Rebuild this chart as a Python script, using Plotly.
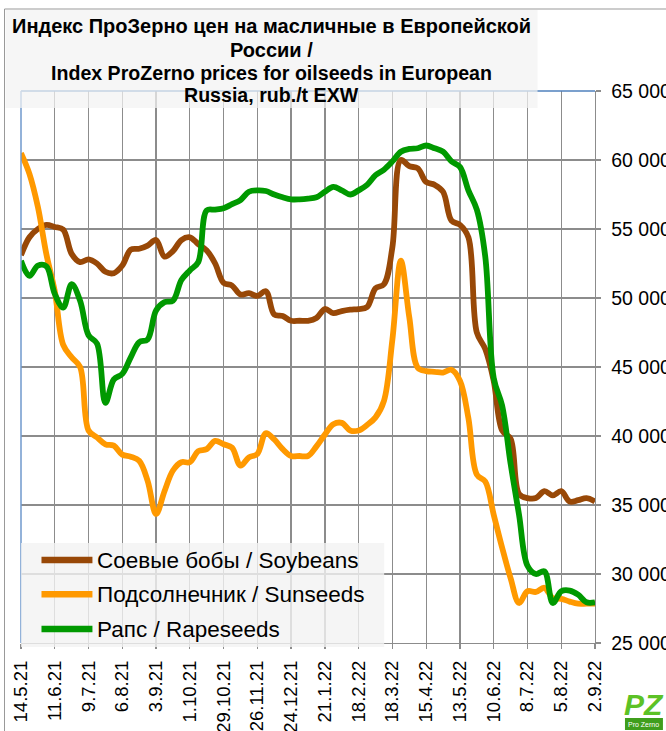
import plotly.graph_objects as go
import pandas as pd

# ---- data ----
weeks = pd.date_range("2021-05-14", "2022-09-02", freq="7D")

tick_labels = ["14.5.21", "11.6.21", "9.7.21", "6.8.21", "3.9.21", "1.10.21",
               "29.10.21", "26.11.21", "24.12.21", "21.1.22", "18.2.22", "18.3.22",
               "15.4.22", "13.5.22", "10.6.22", "8.7.22", "5.8.22", "2.9.22"]

soybeans = [53100, 54400, 55000, 55300, 55150, 54950, 53200, 52600, 52800, 52500,
            51900, 51800, 52350, 53500, 53570, 53800, 54200, 53000, 53400, 54200,
            54400, 53900, 53450, 52500, 51100, 50900, 50250, 50350, 50150, 50500,
            48800, 48700, 48350, 48350, 48350, 48550, 49200, 48900, 49050, 49150,
            49200, 49350, 50700, 51000, 53700, 60000, 59550, 59400, 58400, 58200,
            57700, 55600, 55300, 54400, 47500, 46300, 44000, 40400, 39800, 35800,
            35500, 35500, 36000, 35700, 36000, 35250, 35350, 35500, 35250]

sunseeds = [60500, 59000, 56600, 53200, 50500, 46600, 45700, 45000, 40400, 39900,
            39400, 39300, 38650, 38500, 38200, 36750, 34350, 36000, 37500, 38100,
            38100, 38900, 39050, 39650, 39400, 39150, 37850, 38450, 38700, 40200,
            39750, 39050, 38550, 38550, 38550, 39250, 40100, 40850, 40950, 40400,
            40400, 40800, 41350, 42550, 47000, 52700, 48600, 44950, 44700, 44650,
            44600, 44800, 44000, 41300, 37200, 36700, 34300, 31900, 29700, 27900,
            28750, 28700, 29000, 28250, 28200, 28000, 27850, 27850, 27850]

rapeseeds = [52700, 51600, 52350, 52300, 50300, 49300, 51000, 49800, 47300, 46700,
             42400, 44100, 44500, 45700, 46800, 47000, 49100, 49700, 49800, 51300,
             52000, 52600, 56350, 56400, 56500, 56800, 57100, 57700, 57800, 57750,
             57500, 57300, 57150, 57150, 57200, 57300, 57700, 58050, 57800, 57500,
             57800, 58200, 58900, 59300, 59900, 60600, 60800, 60850, 61050, 60850,
             60600, 59900, 59500, 57800, 56400, 53000, 44200, 42200, 38000, 34300,
             30600, 30000, 30200, 27900, 28750, 28800, 28500, 27950, 27950]

series_names = ["Соевые бобы / Soybeans", "Подсолнечник / Sunseeds", "Рапс / Rapeseeds"]
series_colors = ["#984807", "#FF9900", "#009900"]

title_lines = ["Индекс ПроЗерно цен на масличные в Европейской",
               "России /",
               "Index ProZerno prices for oilseeds in European",
               "Russia, rub./t EXW"]

# ---- layout geometry (pixels) ----
FW, FH = 666, 731
L, R, T, B = 20.5, 595, 91, 643
W, H = R - L, B - T

def px(x):
    return (x - L) / W

def py(y):
    return (B - y) / H

FONT = "Liberation Sans, Arial, sans-serif"

fig = go.Figure()
for vals, name, col in zip([soybeans, sunseeds, rapeseeds], series_names, series_colors):
    fig.add_trace(go.Scatter(x=weeks, y=vals, mode="lines", name=name,
                             line=dict(color=col, width=5.8, shape="spline", smoothing=1.0),
                             showlegend=False, hoverinfo="skip"))

shapes = []
annotations = []

# outer frame
shapes.append(dict(type="rect", xref="paper", yref="paper",
                   x0=px(4), x1=px(700), y0=py(9), y1=py(760),
                   line=dict(color="#999999", width=1), fillcolor="rgba(0,0,0,0)", layer="below"))
# plot area blue top/left border
shapes.append(dict(type="line", xref="paper", yref="paper", x0=0, x1=1, y0=1, y1=1,
                   line=dict(color="#4f81bd", width=1.5), layer="above"))
shapes.append(dict(type="line", xref="paper", yref="paper", x0=0, x1=0, y0=0, y1=1,
                   line=dict(color="#6f98cc", width=1.5), layer="above"))

# title box
shapes.append(dict(type="rect", xref="paper", yref="paper",
                   x0=px(5), x1=px(537.5), y0=py(108), y1=py(10),
                   line=dict(width=0), fillcolor="rgba(242,242,242,0.72)", layer="above"))
for txt, yc, fs in zip(title_lines, [26.5, 49.5, 72.7, 95.5], [20, 20, 19.6, 19.6]):
    annotations.append(dict(text="<b>" + txt + "</b>", xref="paper", yref="paper",
                            x=px(271.5), y=py(yc), xanchor="center", yanchor="middle",
                            showarrow=False, font=dict(family=FONT, size=fs, color="#000000")))

# legend box
shapes.append(dict(type="rect", xref="paper", yref="paper",
                   x0=px(20.5), x1=px(384), y0=py(647), y1=py(543),
                   line=dict(width=0), fillcolor="rgba(242,242,242,0.8)", layer="above"))
for name, col, yc in zip(series_names, series_colors, [560, 594.3, 629]):
    shapes.append(dict(type="line", xref="paper", yref="paper",
                       x0=px(41), x1=px(92), y0=py(yc), y1=py(yc),
                       line=dict(color=col, width=6.5), layer="above"))
    annotations.append(dict(text=name, xref="paper", yref="paper",
                            x=px(95), y=py(yc), xanchor="left", yanchor="middle",
                            showarrow=False, font=dict(family=FONT, size=22.5, color="#000000")))

# logo
shapes.append(dict(type="rect", xref="paper", yref="paper",
                   x0=px(625), x1=px(663), y0=py(730), y1=py(718),
                   line=dict(width=0), fillcolor="#3f9e1c", layer="above"))
annotations.append(dict(text="<b><i>PZ</i></b>", xref="paper", yref="paper",
                        x=px(644), y=py(704), xanchor="center", yanchor="middle",
                        showarrow=False, font=dict(family=FONT, size=30, color="#5cc226")))
annotations.append(dict(text="Pro Zerno", xref="paper", yref="paper",
                        x=px(644), y=py(724.5), xanchor="center", yanchor="middle",
                        showarrow=False, font=dict(family=FONT, size=7, color="#ffffff")))

fig.update_layout(
    width=FW, height=FH,
    margin=dict(l=L, r=FW - R, t=T, b=FH - B, autoexpand=False),
    paper_bgcolor="white", plot_bgcolor="white",
    separators=". ",
    showlegend=False,
    font=dict(family=FONT, color="#000000"),
    shapes=shapes, annotations=annotations,
    xaxis=dict(type="date", range=[weeks[0], weeks[-1]],
               tickmode="array", tickvals=list(weeks[::4]), ticktext=tick_labels,
               tickangle=-90, tickfont=dict(family=FONT, size=18.5, color="#000000"),
               showgrid=True, gridcolor="#8c8c8c", gridwidth=1.3,
               showline=True, linecolor="#8c8c8c", linewidth=1.3,
               ticks="outside", ticklen=5, tickcolor="#8c8c8c", tickwidth=1.3,
               ticklabelstandoff=4,
               zeroline=False, automargin=False, fixedrange=True),
    yaxis=dict(range=[25000, 65000], dtick=5000, tick0=25000, tickformat=",d",
               side="right", tickfont=dict(family=FONT, size=19.5, color="#000000"),
               showgrid=True, gridcolor="#8c8c8c", gridwidth=1.3,
               showline=True, linecolor="#8c8c8c", linewidth=1.3,
               ticks="outside", ticklen=5, tickcolor="#8c8c8c", tickwidth=1.3,
               ticklabelstandoff=6,
               zeroline=False, automargin=False, fixedrange=True),
)

fig.write_html("out.html",
               config={"displayModeBar": False, "staticPlot": True},
               post_script="document.body.style.margin='0';document.body.style.padding='0';")
